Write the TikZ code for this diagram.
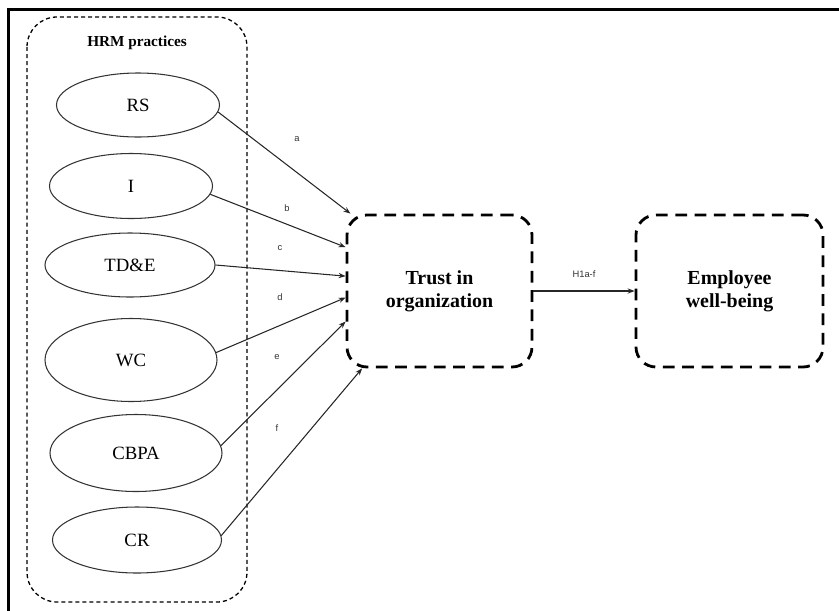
\documentclass[tikz,border=0pt]{standalone}
\usepackage{fontspec}
\setmainfont{Liberation Serif}
\newfontfamily\labfont{Liberation Sans}
\usepackage{tikz}
\usetikzlibrary{shapes, positioning, arrows.meta}

\tikzset{
    practice/.style={ellipse, draw=black!80, line width=0.9pt, inner sep=0pt, font=\fontsize{16}{19}\selectfont},
    construct/.style={rectangle, draw, rounded corners=0.6cm, line width=2.4pt, dash pattern=on 10pt off 6.5pt,
        align=center, minimum width=5.55cm, minimum height=4.56cm, font=\bfseries\fontsize{17}{20}\selectfont},
    link/.style={-{Stealth[length=6pt, width=4.5pt]}, line width=0.9pt, black!85},
    lab/.style={font=\labfont\fontsize{8}{9}\selectfont, text=black!80}
}

\begin{document}
\begin{tikzpicture}[x=0.03cm, y=-0.03cm]
        \useasboundingbox (0, 0) rectangle (839, 610);
        \draw[line width=2.3pt] (8.5, 611) -- (8.5, 9.5) -- (840, 9.5);

        \draw[line width=1.1pt, dash pattern=on 3.4pt off 2.6pt, rounded corners=0.9cm] (27, 17) rectangle (247, 602);
        \node[font=\bfseries\fontsize{13}{15}\selectfont] (hrm) at (137, 43) {HRM practices};

        \node[practice, minimum width=4.89cm, minimum height=1.92cm] (rs) at (138, 105) {RS};
        \node[practice, minimum width=4.89cm, minimum height=1.95cm] (i) at (131, 186) {I};
        \node[practice, minimum width=5.10cm, minimum height=1.92cm] (tde) at (130, 265) {TD\&E};
        \node[practice, minimum width=5.16cm, minimum height=2.49cm] (wc) at (131, 360) {WC};
        \node[practice, minimum width=5.16cm, minimum height=2.31cm] (cbpa) at (136, 453) {CBPA};
        \node[practice, minimum width=5.07cm, minimum height=1.98cm] (cr) at (137, 540) {CR};

        \node[construct] (trust) at (439.5, 291) {Trust in\\organization};
        \node[construct, minimum width=5.61cm] (wellbeing) at (729.5, 291) {Employee\\well-being};

        \draw[link] (rs.-5) -- (trust.139);
        \draw[link] (i.-6) -- (trust.155.5);
        \draw[link] (tde.east) -- (trust.171);
        \draw[link] (wc.5) -- (trust.184);
        \draw[link] (cbpa.5) -- (trust.198);
        \draw[link] (cr.3) -- (trust.225);
        \draw[link] (trust) -- node[lab, above=8pt] (h1) {H1a-f} (wellbeing);

        \node[lab] (la) at (297, 139) {a};
        \node[lab] (lb) at (287, 208) {b};
        \node[lab] (lc) at (280, 248) {c};
        \node[lab] (ld) at (280, 297) {d};
        \node[lab] (le) at (277, 357) {e};
        \node[lab] (lf) at (277, 428) {f};
    \end{tikzpicture}
\end{document}
